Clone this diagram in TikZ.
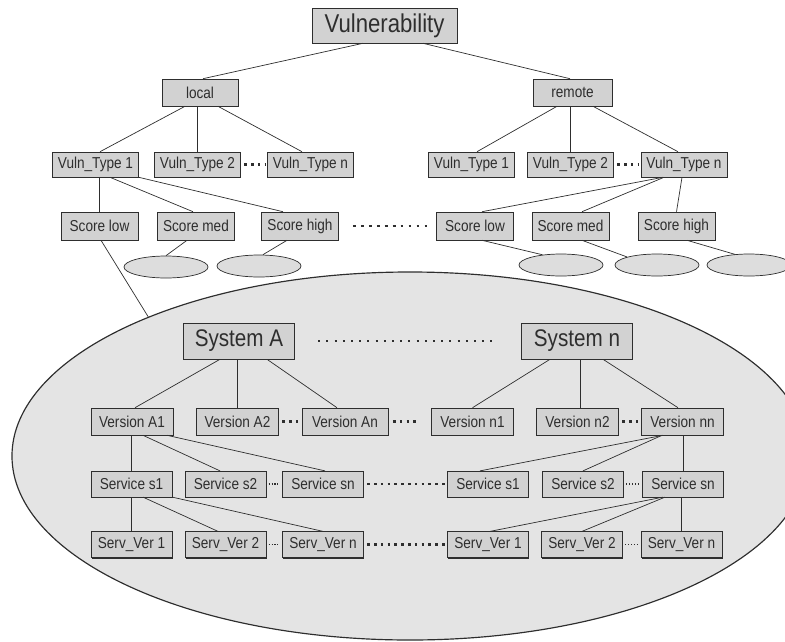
\documentclass[tikz,border=0pt]{standalone}
\usepackage{fontspec}
\setmainfont{Liberation Sans}[FakeStretch=0.86]
\usetikzlibrary{shapes.geometric,shadows}
\definecolor{inkgray}{HTML}{2E2E2E}
\definecolor{boxgray}{HTML}{D2D2D2}
\definecolor{blobgray}{HTML}{E4E4E4}
\definecolor{leafgray}{HTML}{DDDDDD}
\begin{document}
\begin{tikzpicture}[x=0.03cm,y=-0.03cm,
	box/.style={draw=inkgray,fill=boxgray,line width=0.5pt,inner sep=0pt,text=inkgray,
		drop shadow={shadow xshift=0.5pt,shadow yshift=-1pt,fill=inkgray,opacity=1},
		font=\fontsize{13.5}{15}\selectfont},
	topbox/.style={box,minimum width=4.35cm,minimum height=1.05cm,font=\fontsize{22}{25}\selectfont},
	kindbox/.style={box,minimum height=0.81cm},
	typebox/.style={box,minimum width=2.58cm,minimum height=0.75cm},
	scorebox/.style={box,minimum width=2.31cm,minimum height=0.84cm},
	sysbox/.style={box,minimum width=3.33cm,minimum height=1.08cm,font=\fontsize{20.5}{23}\selectfont},
	verbox/.style={box,minimum width=2.46cm,minimum height=0.81cm},
	srvbox/.style={box,minimum width=2.43cm,minimum height=0.77cm},
	leaf/.style={ellipse,draw=inkgray,fill=leafgray,line width=0.6pt,minimum width=2.52cm,minimum height=0.66cm,inner sep=0pt},
	link/.style={draw=inkgray,line width=0.6pt},
	bigdots/.style={draw=inkgray,line width=2.2pt,dash pattern=on 2.2pt off 3.6pt},
	tinydots/.style={draw=inkgray,line width=0.9pt,dash pattern=on 0.9pt off 1.6pt}]
			\useasboundingbox (0,0) rectangle (785,641);
			\clip (0,0) rectangle (785,641);
			\node[ellipse,draw=inkgray,fill=blobgray,line width=1pt,minimum width=23.88cm,minimum height=11.04cm,inner sep=0pt] (blob) at (410,456) {};
			% vulnerability tree
			\node[topbox] (vul) at (384.5,25.5) {Vulnerability};
			\node[kindbox,minimum width=2.28cm] (local) at (200,92.5) {local};
			\node[kindbox,minimum width=2.37cm] (remote) at (572.5,92.5) {remote};
			\node[typebox] (lt1) at (95.5,164.5) {Vuln\_Type 1};
			\node[typebox] (lt2) at (197.5,164.5) {Vuln\_Type 2};
			\node[typebox] (ltn) at (310.5,164.5) {Vuln\_Type n};
			\node[typebox] (rt1) at (471.5,164.5) {Vuln\_Type 1};
			\node[typebox] (rt2) at (570.5,164.5) {Vuln\_Type 2};
			\node[typebox] (rtn) at (684,164.5) {Vuln\_Type n};
			\node[scorebox] (lsl) at (99.5,226) {Score low};
			\node[scorebox] (lsm) at (196,226) {Score med};
			\node[scorebox] (lsh) at (300,226) {Score high};
			\node[scorebox] (rsl) at (475,226) {Score low};
			\node[scorebox] (rsm) at (570.5,226) {Score med};
			\node[scorebox] (rsh) at (676.5,226) {Score high};
			\node[leaf] (ll1) at (166,267) {};
			\node[leaf] (ll2) at (259,266) {};
			\node[leaf] (rl1) at (561,265) {};
			\node[leaf] (rl2) at (657,265) {};
			\node[leaf] (rl3) at (749,265) {};
			% systems
			\node[sysbox] (sysa) at (239,341) {System A};
			\node[sysbox] (sysn) at (577,341) {System n};
			\node[verbox] (va1) at (132,421.5) {Version A1};
			\node[verbox] (va2) at (237.5,421.5) {Version A2};
			\node[verbox,minimum width=2.58cm] (van) at (345,421.5) {Version An};
			\node[verbox] (vn1) at (472.5,421.5) {Version n1};
			\node[verbox] (vn2) at (577.5,421.5) {Version n2};
			\node[verbox] (vnn) at (682.5,421.5) {Version nn};
			\node[srvbox] (sa1) at (131.5,484) {Service s1};
			\node[srvbox] (sa2) at (225.5,484) {Service s2};
			\node[srvbox] (san) at (323,484) {Service sn};
			\node[srvbox] (sn1) at (488,484) {Service s1};
			\node[srvbox] (sn2) at (583,484) {Service s2};
			\node[srvbox] (snn) at (683,484) {Service sn};
			\node[srvbox] (xa1) at (131.5,544.5) {Serv\_Ver 1};
			\node[srvbox] (xa2) at (225.5,544.5) {Serv\_Ver 2};
			\node[srvbox] (xan) at (323,544.5) {Serv\_Ver n};
			\node[srvbox] (xn1) at (488,544.5) {Serv\_Ver 1};
			\node[srvbox] (xn2) at (582,544.5) {Serv\_Ver 2};
			\node[srvbox] (xnn) at (681.5,544.5) {Serv\_Ver n};
			% links
			\draw[link] ([xshift=-0.645cm]vul.south) -- ([xshift=0.09cm]local.north);
			\draw[link] ([xshift=1.155cm]vul.south) -- ([xshift=-0.075cm]remote.north);
			\draw[link] ([xshift=-0.45cm]local.south) -- ([xshift=0.135cm]lt1.north);
			\draw[link] (lt2.north) -- (lt2.north |- local.south);
			\draw[link] ([xshift=0.54cm]local.south) -- ([xshift=-0.255cm]ltn.north);
			\draw[link] ([xshift=-0.465cm]remote.south) -- ([xshift=0.165cm]rt1.north);
			\draw[link,line width=1pt] (rt2.north) -- (rt2.north |- remote.south);
			\draw[link] ([xshift=0.615cm]remote.south) -- ([xshift=-0.18cm]rtn.north);
			\draw[link] (lsl.north) -- (lsl.north |- lt1.south);
			\draw[link] ([xshift=0.435cm]lt1.south) -- ([xshift=-0.09cm]lsm.north);
			\draw[link] (lt1.south east) -- ([xshift=-0.51cm]lsh.north);
			\draw[link] ([xshift=-0.63cm]rtn.south) -- ([xshift=0.21cm]rsl.north);
			\draw[link] ([xshift=-0.6cm]rtn.south) -- ([xshift=0.345cm]rsm.north);
			\draw[link] ([xshift=-0.06cm]rtn.south) -- (rsh.north);
			\draw[link] ([xshift=-0.27cm]lsm.south) -- (ll1.north);
			\draw[link] ([xshift=-0.39cm]lsh.south) -- ([xshift=0.12cm]ll2.north);
			\draw[link] ([xshift=0.21cm]rsl.south) -- (rl1.151);
			\draw[link] ([xshift=0.345cm]rsm.south) -- (rl2.165);
			\draw[link] ([xshift=0.315cm]rsh.south) -- (rl3.143);
			\draw[link] ([xshift=0.045cm]lsl.south) -- (blob.152.6);
			\draw[link] ([xshift=-0.57cm]sysa.south) -- ([xshift=0.09cm]va1.north);
			\draw[link] (va2.north) -- (va2.north |- sysa.south);
			\draw[link] ([xshift=0.84cm]sysa.south) -- ([xshift=-0.24cm]van.north);
			\draw[link] ([xshift=-0.81cm]sysn.south) -- (vn1.north);
			\draw[link] ([xshift=0.1cm]vn2.north) -- ([xshift=0.1cm]vn2.north |- sysn.south);
			\draw[link] ([xshift=0.78cm]sysn.south) -- ([xshift=-0.135cm]vnn.north);
			\draw[link] (sa1.north) -- (sa1.north |- va1.south);
			\draw[link] ([xshift=0.33cm]va1.south) -- ([xshift=-0.165cm]sa2.north);
			\draw[link] ([xshift=1.05cm]va1.south) -- ([xshift=0.06cm]san.north);
			\draw[link] ([xshift=-0.585cm]vnn.south) -- ([xshift=-0.24cm]sn1.north);
			\draw[link] ([xshift=-0.615cm]vnn.south) -- (sn2.north);
			\draw[link] (snn.north) -- (snn.north |- vnn.south);
			\draw[link] (xa1.north) -- (xa1.north |- sa1.south);
			\draw[link] ([xshift=0.345cm]sa1.south) -- ([xshift=-0.225cm]xa2.north);
			\draw[link] (sa1.south east) -- (xan.north);
			\draw[link] ([xshift=-0.6cm]snn.south) -- ([xshift=0.06cm]xn1.north);
			\draw[link] ([xshift=-0.54cm]snn.south) -- (xn2.north);
			\draw[link] (xnn.north) -- (xnn.north |- snn.south);
			% dots
			\draw[bigdots,shorten <=3pt,shorten >=2pt] (lt2.east) -- (ltn.west);
			\draw[bigdots,shorten <=3pt,shorten >=2pt] (rt2.east) -- (rtn.west);
			\draw[bigdots,line width=2.4pt,dash pattern=on 2.4pt off 4.4pt,shorten <=12pt,shorten >=7pt] (lsh.east) -- (rsl.west);
			\draw[bigdots,line width=1.6pt,dash pattern=on 1.6pt off 5.4pt,shorten <=20pt,shorten >=21pt] (sysa.east) -- (sysn.west);
			\draw[bigdots,shorten <=3pt,shorten >=2pt] (va2.east) -- (van.west);
			\draw[bigdots,shorten <=4pt,shorten >=13pt] (van.east) -- (vn1.west);
			\draw[bigdots,shorten <=3pt,shorten >=2pt] (vn2.east) -- (vnn.west);
			\draw[tinydots,shorten <=2pt,shorten >=2pt] (sa2.east) -- (san.west);
			\draw[bigdots,shorten <=3pt,shorten >=2pt] (san.east) -- (sn1.west);
			\draw[tinydots,shorten <=2pt,shorten >=2pt] (sn2.east) -- (snn.west);
			\draw[tinydots,shorten <=2pt,shorten >=2pt] (xa2.east) -- (xan.west);
			\draw[bigdots,shorten <=3pt,shorten >=2pt] (xan.east) -- (xn1.west);
			\draw[tinydots,shorten <=2pt,shorten >=2pt] (xn2.east) -- (xnn.west);
		\end{tikzpicture}
\end{document}
